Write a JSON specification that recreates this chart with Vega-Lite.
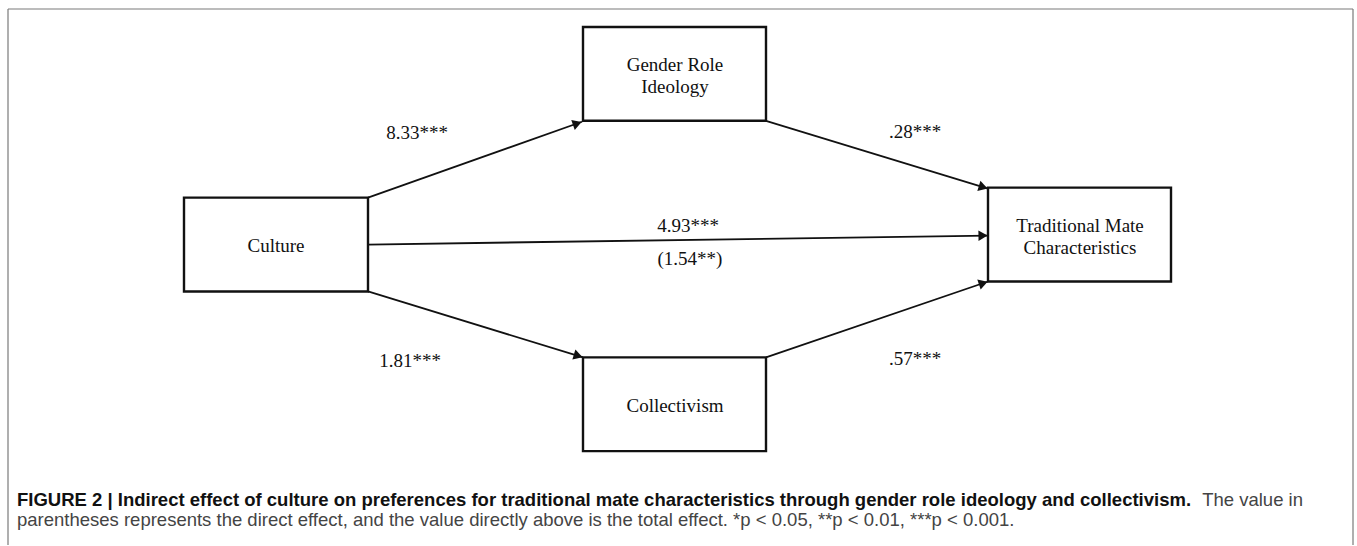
{
  "$schema": "https://vega.github.io/schema/vega-lite/v6.json",
  "width": 1357,
  "height": 546,
  "padding": 0,
  "autosize": {"type": "fit", "contains": "padding"},
  "background": "white",
  "config": {"view": {"stroke": null}},
  "datasets": {
    "frame": [
      {"x": 8, "y": 9, "x2": 1353, "y2": 9},
      {"x": 8, "y": 9, "x2": 8, "y2": 546},
      {"x": 1353, "y": 9, "x2": 1353, "y2": 546}
    ],
    "boxes": [
      {"node": "Gender Role Ideology", "x": 583, "x2": 766, "y": 27, "y2": 121},
      {"node": "Culture", "x": 184, "x2": 368, "y": 198, "y2": 292},
      {"node": "Traditional Mate Characteristics", "x": 988, "x2": 1171, "y": 188, "y2": 282},
      {"node": "Collectivism", "x": 583, "x2": 766, "y": 358, "y2": 452}
    ],
    "nodeLabels": [
      {"label": "Gender Role", "x": 675, "y": 65},
      {"label": "Ideology", "x": 675, "y": 87},
      {"label": "Culture", "x": 276, "y": 246},
      {"label": "Traditional Mate", "x": 1080, "y": 226},
      {"label": "Characteristics", "x": 1080, "y": 248},
      {"label": "Collectivism", "x": 675, "y": 407}
    ],
    "paths": [
      {"from": "Culture", "to": "Gender Role Ideology", "x": 368, "y": 198, "x2": 582, "y2": 122},
      {"from": "Gender Role Ideology", "to": "Traditional Mate Characteristics", "x": 766, "y": 121, "x2": 988, "y2": 189},
      {"from": "Culture", "to": "Traditional Mate Characteristics", "x": 368, "y": 245, "x2": 988, "y2": 236},
      {"from": "Culture", "to": "Collectivism", "x": 368, "y": 292, "x2": 583, "y2": 358},
      {"from": "Collectivism", "to": "Traditional Mate Characteristics", "x": 766, "y": 358, "x2": 988, "y2": 282}
    ],
    "coefs": [
      {"label": "8.33***", "x": 417, "y": 133},
      {"label": ".28***", "x": 915, "y": 132},
      {"label": "4.93***", "x": 688, "y": 226},
      {"label": "(1.54**)", "x": 690, "y": 259},
      {"label": "1.81***", "x": 410, "y": 362},
      {"label": ".57***", "x": 915, "y": 360}
    ],
    "captionBold": [
      {"text": "FIGURE 2 | Indirect effect of culture on preferences for traditional mate characteristics through gender role ideology and collectivism.", "x": 17, "y": 501}
    ],
    "captionNormal": [
      {"text": "The value in", "x": 1303, "y": 501}
    ],
    "captionLine2": [
      {"text": "parentheses represents the direct effect, and the value directly above is the total effect. *p < 0.05, **p < 0.01, ***p < 0.001.", "x": 17, "y": 521}
    ]
  },
  "layer": [
    {
      "data": {"name": "frame"},
      "mark": {"type": "rule", "stroke": "#7a7a7a", "strokeWidth": 1.2},
      "encoding": {
        "x": {"field": "x", "type": "quantitative", "scale": {"domain": [0, 1357], "nice": false, "zero": false}, "axis": null},
        "y": {"field": "y", "type": "quantitative", "scale": {"domain": [0, 546], "nice": false, "zero": false, "reverse": true}, "axis": null},
        "x2": {"field": "x2"},
        "y2": {"field": "y2"}
      }
    },
    {
      "data": {"name": "paths"},
      "mark": {"type": "rule", "stroke": "#111", "strokeWidth": 1.8},
      "encoding": {
        "x": {"field": "x", "type": "quantitative"},
        "y": {"field": "y", "type": "quantitative"},
        "x2": {"field": "x2"},
        "y2": {"field": "y2"}
      }
    },
    {
      "data": {"name": "paths"},
      "transform": [
        {"calculate": "atan2(datum.y2 - datum.y, datum.x2 - datum.x)", "as": "theta"},
        {"calculate": "datum.theta * 180 / PI", "as": "deg"},
        {"calculate": "datum.x2 - 5 * cos(datum.theta)", "as": "hx"},
        {"calculate": "datum.y2 - 5 * sin(datum.theta)", "as": "hy"}
      ],
      "mark": {"type": "point", "shape": "triangle-right", "filled": true, "fill": "#111", "stroke": null, "size": 110, "opacity": 1},
      "encoding": {
        "x": {"field": "hx", "type": "quantitative"},
        "y": {"field": "hy", "type": "quantitative"},
        "angle": {"field": "deg", "type": "quantitative", "scale": null}
      }
    },
    {
      "data": {"name": "boxes"},
      "mark": {"type": "rect", "fill": "white", "stroke": "#111", "strokeWidth": 2.4},
      "encoding": {
        "x": {"field": "x", "type": "quantitative"},
        "x2": {"field": "x2"},
        "y": {"field": "y", "type": "quantitative"},
        "y2": {"field": "y2"}
      }
    },
    {
      "data": {"name": "nodeLabels"},
      "mark": {"type": "text", "font": "Liberation Serif", "fontSize": 19, "color": "#111", "align": "center", "baseline": "middle"},
      "encoding": {
        "x": {"field": "x", "type": "quantitative"},
        "y": {"field": "y", "type": "quantitative"},
        "text": {"field": "label"}
      }
    },
    {
      "data": {"name": "coefs"},
      "mark": {"type": "text", "font": "Liberation Serif", "fontSize": 19, "color": "#111", "align": "center", "baseline": "middle"},
      "encoding": {
        "x": {"field": "x", "type": "quantitative"},
        "y": {"field": "y", "type": "quantitative"},
        "text": {"field": "label"}
      }
    },
    {
      "data": {"name": "captionBold"},
      "mark": {"type": "text", "font": "Liberation Sans", "fontSize": 18.5, "fontWeight": "bold", "color": "#111", "align": "left", "baseline": "middle"},
      "encoding": {
        "x": {"field": "x", "type": "quantitative"},
        "y": {"field": "y", "type": "quantitative"},
        "text": {"field": "text"}
      }
    },
    {
      "data": {"name": "captionNormal"},
      "mark": {"type": "text", "font": "Liberation Sans", "fontSize": 18.5, "color": "#444", "align": "right", "baseline": "middle"},
      "encoding": {
        "x": {"field": "x", "type": "quantitative"},
        "y": {"field": "y", "type": "quantitative"},
        "text": {"field": "text"}
      }
    },
    {
      "data": {"name": "captionLine2"},
      "mark": {"type": "text", "font": "Liberation Sans", "fontSize": 18.5, "color": "#444", "align": "left", "baseline": "middle"},
      "encoding": {
        "x": {"field": "x", "type": "quantitative"},
        "y": {"field": "y", "type": "quantitative"},
        "text": {"field": "text"}
      }
    }
  ]
}
